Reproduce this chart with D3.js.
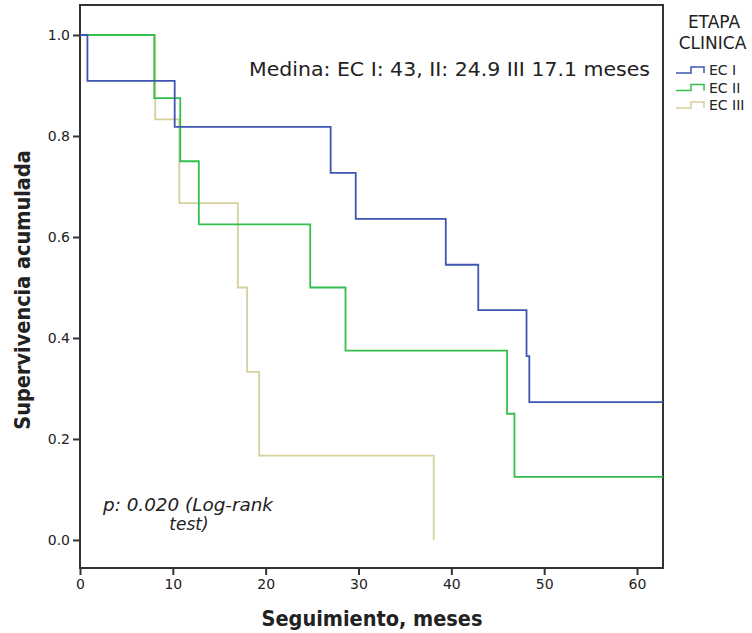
<!DOCTYPE html>
<html>
<head>
<meta charset="utf-8">
<script src="https://cdn.jsdelivr.net/npm/d3@7"></script>
<style>
  body { margin: 0; background: #fff; }
  text { font-family: "DejaVu Sans", sans-serif; fill: #222; }
</style>
</head>
<body>
<svg id="chart" width="752" height="633"></svg>
<script>
// Kaplan-Meier steps: [tiempo, supervivencia]
const ecI = [[0, 1], [0.8, 0.909], [10.2, 0.818], [27.0, 0.727], [29.7, 0.636],
             [39.4, 0.545], [42.9, 0.455], [48.1, 0.364], [48.4, 0.273], [62.8, 0.273]];
const ecII = [[0, 1], [8.0, 0.875], [10.8, 0.75], [12.8, 0.625], [24.8, 0.5],
              [28.6, 0.375], [46.0, 0.25], [46.8, 0.125], [62.8, 0.125]];
const ecIII = [[0, 1], [8.1, 0.833], [10.7, 0.667], [17.0, 0.5], [18.0, 0.333],
               [19.3, 0.167], [38.1, 0.167], [38.1, 0]];

const series = [
    {name: "EC I", data: ecI, color: "#3d56b3"},
    {name: "EC II", data: ecII, color: "#34bf4c"},
    {name: "EC III", data: ecIII, color: "#d6d09c"}
];
const xTicks = [0, 10, 20, 30, 40, 50, 60];
const yTicks = [0, 0.2, 0.4, 0.6, 0.8, 1.0];

const svg = d3.select("#chart");
const m = {left: 80, right: 663, top: 5, bottom: 568};

const x = d3.scaleLinear().domain([0, 62.8]).range([m.left, m.right]);
const y = d3.scaleLinear().domain([-0.0555, 1.0594]).range([m.bottom, m.top]);

// frame
svg.append("rect")
    .attr("x", m.left).attr("y", m.top)
    .attr("width", m.right - m.left).attr("height", m.bottom - m.top)
    .attr("fill", "none").attr("stroke", "#333").attr("stroke-width", 2);

const line = d3.line()
    .x(d => x(d[0])).y(d => y(d[1]))
    .curve(d3.curveStepAfter);

svg.append("g").selectAll("path")
    .data(series.slice().reverse())
    .enter().append("path")
    .attr("d", d => line(d.data))
    .attr("fill", "none")
    .attr("stroke", d => d.color)
    .attr("stroke-width", 1.8);

// axes
const xAxis = svg.append("g")
    .attr("transform", `translate(0,${m.bottom})`)
    .call(d3.axisBottom(x).tickValues(xTicks).tickSize(7).tickPadding(4).tickFormat(d3.format("d")));
const yAxis = svg.append("g")
    .attr("transform", `translate(${m.left},0)`)
    .call(d3.axisLeft(y).tickValues(yTicks).tickSize(7).tickPadding(3).tickFormat(d3.format(".1f")));

[xAxis, yAxis].forEach(g => {
    g.select(".domain").remove();
    g.selectAll(".tick line").attr("stroke", "#333").attr("stroke-width", 2);
    g.selectAll(".tick text").attr("font-size", 14).attr("fill", "#333")
        .style("font-family", "'DejaVu Sans', sans-serif");
});

// axis titles
svg.append("text")
    .attr("x", 372).attr("y", 626)
    .attr("text-anchor", "middle")
    .attr("font-size", 21.5).attr("font-weight", "bold")
    .style("font-family", "'DejaVu Sans Condensed', sans-serif")
    .text("Seguimiento, meses");

svg.append("text")
    .attr("transform", `translate(30,290) rotate(-90)`)
    .attr("text-anchor", "middle")
    .attr("font-size", 21.5).attr("font-weight", "bold")
    .style("font-family", "'DejaVu Sans Condensed', sans-serif")
    .text("Supervivencia acumulada");

// annotations
svg.append("text")
    .attr("x", 249).attr("y", 76)
    .attr("font-size", 19)
    .attr("textLength", 401).attr("lengthAdjust", "spacingAndGlyphs")
    .text("Medina: EC I: 43, II: 24.9 III 17.1 meses");

svg.append("text")
    .attr("x", 188).attr("y", 511)
    .attr("text-anchor", "middle")
    .attr("font-size", 17).attr("font-style", "italic")
    .attr("textLength", 170).attr("lengthAdjust", "spacingAndGlyphs")
    .text("p: 0.020 (Log-rank");
svg.append("text")
    .attr("x", 189).attr("y", 530)
    .attr("text-anchor", "middle")
    .attr("font-size", 17).attr("font-style", "italic")
    .text("test)");

// legend
const lg = svg.append("g");
lg.append("text").attr("x", 714).attr("y", 28).attr("text-anchor", "middle")
    .attr("font-size", 17).text("ETAPA");
lg.append("text").attr("x", 712.5).attr("y", 49).attr("text-anchor", "middle")
    .attr("font-size", 17).text("CLINICA");

const items = lg.selectAll("g.item").data(series).enter().append("g")
    .attr("class", "item")
    .attr("transform", (d, i) => `translate(676,${75 + i * 17.5})`);
items.append("path")
    .attr("d", "M0,-2 H15 V-8 H28 V-2")
    .attr("fill", "none")
    .attr("stroke", d => d.color)
    .attr("stroke-width", 1.5);
items.append("text")
    .attr("x", 33).attr("y", 0)
    .attr("font-size", 14)
    .text(d => d.name);
</script>
</body>
</html>
